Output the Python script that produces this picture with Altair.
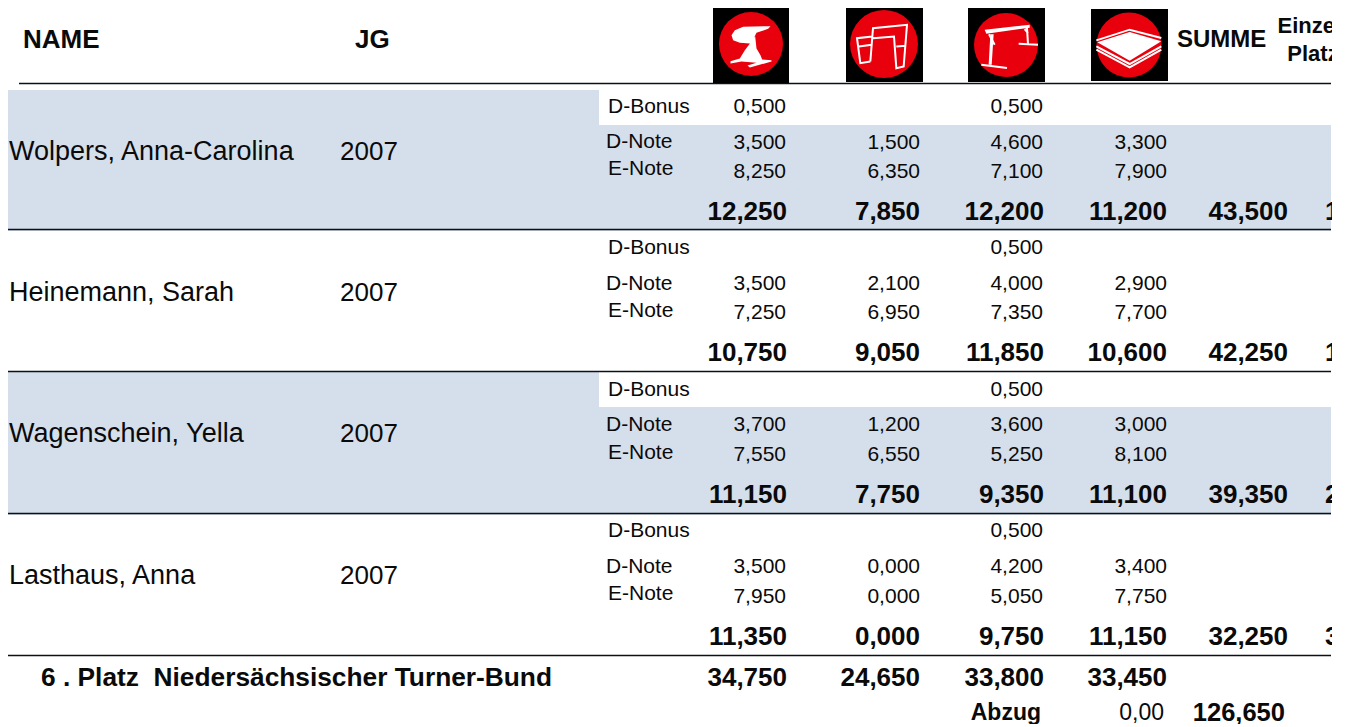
import altair as alt
import pandas as pd

# ---------- values ----------
names = ["Wolpers, Anna-Carolina", "Heinemann, Sarah", "Wagenschein, Yella", "Lasthaus, Anna"]
years = ["2007", "2007", "2007", "2007"]
d_bonus = [["0,500", "", "0,500", ""], ["", "", "0,500", ""], ["", "", "0,500", ""], ["", "", "0,500", ""]]
d_note = [["3,500", "1,500", "4,600", "3,300"], ["3,500", "2,100", "4,000", "2,900"],
          ["3,700", "1,200", "3,600", "3,000"], ["3,500", "0,000", "4,200", "3,400"]]
e_note = [["8,250", "6,350", "7,100", "7,900"], ["7,250", "6,950", "7,350", "7,700"],
          ["7,550", "6,550", "5,250", "8,100"], ["7,950", "0,000", "5,050", "7,750"]]
totals = [["12,250", "7,850", "12,200", "11,200"], ["10,750", "9,050", "11,850", "10,600"],
          ["11,150", "7,750", "9,350", "11,100"], ["11,350", "0,000", "9,750", "11,150"]]
summen = ["43,500", "42,250", "39,350", "32,250"]
ranks = ["1", "1", "2", "3"]
team_label = "6 . Platz\u00a0\u00a0Niedersächsischer Turner-Bund"
team_totals = ["34,750", "24,650", "33,800", "33,450"]
abzug_label, abzug_value, team_sum = "Abzug", "0,00", "126,650"
headers = ["NAME", "JG", "SUMME", "Einzel-", "Platz"]

# ---------- layout (page px minus the 8px margin) ----------
M = 8
TEXT_DY = 1
col_stops = [("name", 9), ("year", 340), ("hname", 23), ("hyear", 355), ("dlab", 606), ("blab", 608),
             ("a1s", 786), ("a1", 787), ("a2", 920), ("a3s", 1043), ("a3", 1044), ("a4", 1167),
             ("abz", 1041), ("abv", 1164), ("hsum", 1177), ("tsum", 1285), ("sum", 1288), ("hplace", 1313), ("rank", 1325)]
col_keys = [c for c, _ in sorted(col_stops, key=lambda t: t[1])]
col_px = [p - M for _, p in sorted(col_stops, key=lambda t: t[1])]
row_stops = [("h1", 25), ("hm", 39), ("h2", 53), ("team", 677), ("abz", 712)]
for i, (b, d, e, t, n, dl, el) in enumerate([(106, 142, 171, 211, 151, 141, 168), (247, 283, 312, 352, 292, 283, 310),
                                             (389, 424, 454, 494, 433, 424, 452), (530, 566, 596, 636, 575, 566, 593)]):
    row_stops += [(f"b{i}", b), (f"d{i}", d), (f"e{i}", e), (f"t{i}", t), (f"n{i}", n), (f"dl{i}", dl), (f"el{i}", el)]
row_stops.sort(key=lambda t: t[1])
row_keys = [r for r, _ in row_stops]
row_px = [p - M + TEXT_DY for _, p in row_stops]

W, H = 1324, 716
xs = alt.Scale(domain=list(range(len(col_keys))), range=col_px, nice=False, zero=False)
ys = alt.Scale(domain=list(range(len(row_keys))), range=row_px, nice=False, zero=False)


def rec(col, row, text):
    return {"c": col_keys.index(col), "r": row_keys.index(row), "t": text}


def text_layer(recs, size, bold=False, align="right"):
    return alt.Chart(pd.DataFrame(recs)).mark_text(
        font="Liberation Sans", fontSize=size, fontWeight="bold" if bold else "normal",
        align=align, baseline="middle", color="#0a0a0a", clip=True
    ).encode(x=alt.X("c:Q", scale=xs, axis=None), y=alt.Y("r:Q", scale=ys, axis=None), text="t:N")


# ---------- geometry helpers ----------
one = alt.Data(values=[{"k": 0}])


def rect(x1, x2, y1, y2, color):
    return alt.Chart(one).mark_rect(color=color, stroke=None).encode(
        x=alt.value(x1 - M), x2=alt.value(x2 - M), y=alt.value(max(y1 - M, 0)), y2=alt.value(y2 - M))


def rule(x1, x2, y):
    return alt.Chart(one).mark_rule(color="#0d1016", strokeWidth=1.4).encode(
        x=alt.value(x1 - M), x2=alt.value(x2 - M), y=alt.value(y - M))


R = 38.0


def path(subpaths, cx, cy, closed):
    out = []
    for sp in subpaths:
        pts = [f"{(x - cx) / 3 / R:.4f},{(y - cy) / 3 / R:.4f}" for x, y in sp]
        out.append("M" + "L".join(pts) + ("Z" if closed else ""))
    return "".join(out)


def glyph(px, py, shape, filled, width=2.0, color="white"):
    kw = dict(shape=shape, size=(2 * R) ** 2, opacity=1)
    if filled:
        m = alt.Chart(one).mark_point(filled=True, fill=color, stroke=None, **kw)
    else:
        m = alt.Chart(one).mark_point(filled=False, stroke=color, strokeWidth=width, **kw)
    return m.encode(x=alt.value(px - M), y=alt.value(py - M))


def disc(px, py, r):
    return alt.Chart(one).mark_point(shape="circle", size=(2 * r) ** 2, filled=True, fill="#E8000D",
                                     stroke=None, opacity=1).encode(x=alt.value(px - M), y=alt.value(py - M))


layers = []
# bands
layers += [rect(7, 1331, 90, 231, "#D5DFEB"), rect(599, 1331, 90, 125, "white"),
           rect(7, 1331, 372, 515, "#D5DFEB"), rect(599, 1331, 372, 407, "white")]
# rules
layers += [rule(19, 1331, 83.5), rule(7, 1331, 229.5), rule(7, 1331, 371.5), rule(7, 1331, 513.5), rule(7, 1331, 655.5)]

# icons
layers += [rect(713, 789, 7, 83, "black"), rect(846, 923, 7, 82, "black"),
           rect(968, 1045, 8, 82, "black"), rect(1091, 1168, 9, 81, "black")]
layers += [disc(751, 44, 32), disc(884, 44, 34), disc(1006, 45, 32), disc(1129, 45, 32.5)]
# vault
vault = [[(95, 105), (105, 90), (130, 80), (212, 78), (205, 86), (170, 98), (160, 118), (150, 130), (120, 128), (100, 120)],
         [(152, 128), (166, 108), (170, 145), (182, 165), (187, 178), (215, 180), (215, 184), (150, 202), (143, 196), (170, 188),
          (125, 184), (92, 190), (92, 183), (120, 175), (135, 150)]]
layers.append(glyph(751, 44, path(vault, 153.5, 131.5, True), True))
# uneven bars
bars = [[(512, 185), (520, 85), (622, 75), (612, 200), (590, 205), (583, 110), (520, 115)],
        [(518, 110), (472, 115), (482, 190), (512, 185)],
        [(478, 140), (516, 135)], [(590, 140), (618, 138)]]
layers.append(glyph(884, 44, path(bars, 553, 132.5, False), False, 2.0))
# beam
beam_fill = [[(105, 90), (240, 75), (240, 84), (110, 102)], [(122, 104), (132, 104), (126, 195), (117, 195)]]
layers.append(glyph(1006, 45, path(beam_fill, 169, 136, True), True))
beam_line = [[(95, 195), (172, 205)], [(118, 104), (135, 135)], [(232, 85), (235, 133)], [(225, 88), (235, 100)], [(207, 132), (265, 135)]]
layers.append(glyph(1006, 45, path(beam_line, 169, 136, False), False, 2.0))
# floor
floor_fill = [[(443, 128), (540, 97), (635, 125), (540, 183)]]
layers.append(glyph(1129, 45, path(floor_fill, 538, 136, True), True))
floor_line = [[(440, 122), (540, 90), (635, 115)], [(440, 140), (540, 193), (635, 140)], [(440, 150), (540, 203), (635, 150)]]
layers.append(glyph(1129, 45, path(floor_line, 538, 136, False), False, 2.0))

# ---------- text ----------
layers.append(text_layer([rec("hname", "hm", headers[0]), rec("hyear", "hm", headers[1])], 26, True, "left"))
layers.append(text_layer([rec("hsum", "hm", headers[2])], 24, True, "left"))
layers.append(text_layer([rec("hplace", "h1", headers[3]), rec("hplace", "h2", headers[4])], 22, True, "center"))
layers.append(text_layer([rec("name", f"n{i}", n) for i, n in enumerate(names)], 27, False, "left"))
layers.append(text_layer([rec("year", f"n{i}", y) for i, y in enumerate(years)], 26, False, "left"))
lab = []
for i in range(4):
    lab += [rec("blab", f"b{i}", "D-Bonus"), rec("dlab", f"dl{i}", "D-Note"), rec("blab", f"el{i}", "E-Note")]
layers.append(text_layer(lab, 21, False, "left"))
small = []
small_cols = ["a1s", "a2", "a3s", "a4"]
for i in range(4):
    for j, c in enumerate(small_cols):
        for key, arr in (("b", d_bonus), ("d", d_note), ("e", e_note)):
            if arr[i][j]:
                small.append(rec(c, f"{key}{i}", arr[i][j]))
layers.append(text_layer(small, 21))
big_cols = ["a1", "a2", "a3", "a4"]
big = []
for i in range(4):
    big += [rec(c, f"t{i}", totals[i][j]) for j, c in enumerate(big_cols)]
    big.append(rec("sum", f"t{i}", summen[i]))
big += [rec(c, "team", team_totals[j]) for j, c in enumerate(big_cols)]
layers.append(text_layer(big, 26, True))
layers.append(text_layer([rec("rank", f"t{i}", r) for i, r in enumerate(ranks)], 26, True, "left"))
layers.append(alt.Chart(pd.DataFrame([{"t": team_label}])).mark_text(
    font="Liberation Sans", fontSize=26.3, fontWeight="bold", align="left", baseline="middle", color="#0a0a0a"
).encode(x=alt.value(41 - M), y=alt.value(677 - M + TEXT_DY), text="t:N"))
layers.append(text_layer([rec("abz", "abz", abzug_label)], 23, True))
layers.append(text_layer([rec("abv", "abz", abzug_value)], 23))
layers.append(text_layer([rec("tsum", "abz", team_sum)], 25.5, True))

chart = alt.layer(*layers).properties(
    width=W, height=H, padding=0, autosize=alt.AutoSizeParams(type="none"), background="white"
).configure_view(stroke=None)
chart.save("out.html", embed_options={"renderer": "svg", "actions": False})
